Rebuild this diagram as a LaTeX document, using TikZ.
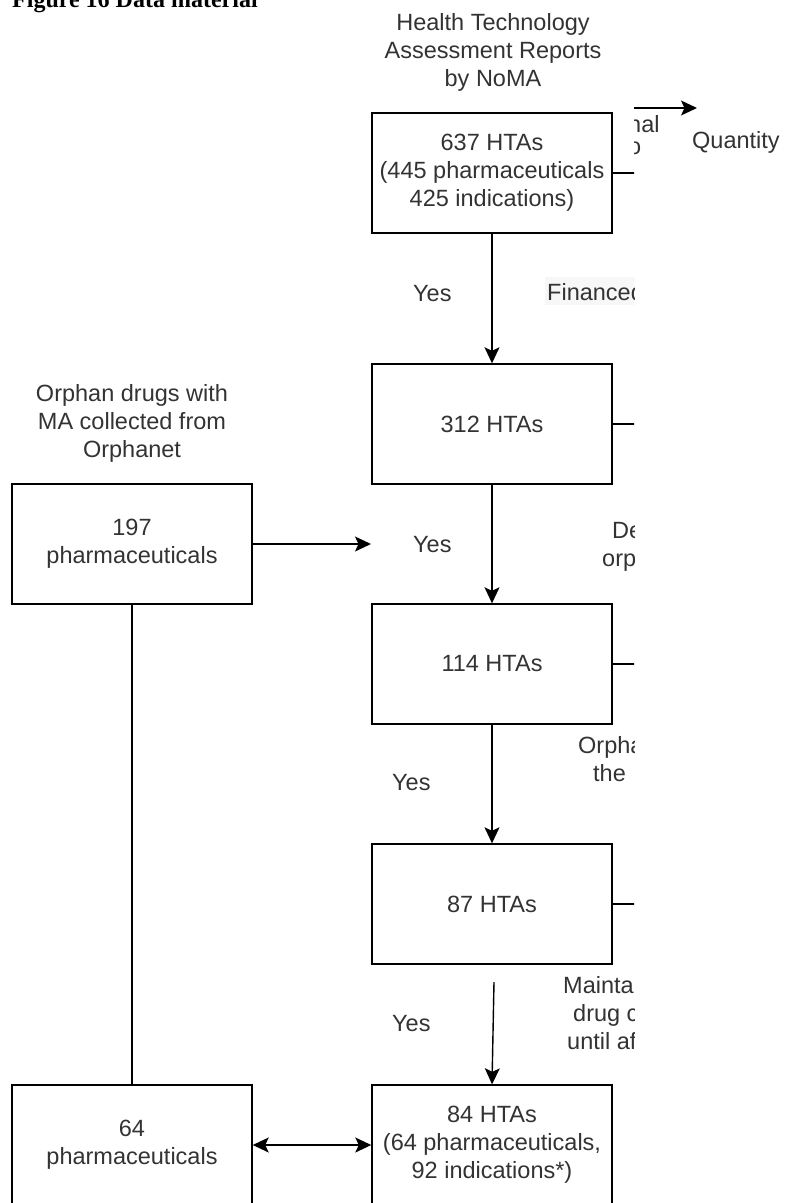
\documentclass[tikz,border=0pt]{standalone}
\usepackage{fontspec}
\setmainfont{Liberation Sans}
\newfontfamily\titlefont{Liberation Serif}
\usetikzlibrary{arrows.meta}
\tikzset{
  box/.style={draw=black, line width=1.4pt, minimum width=240pt, minimum height=120pt, inner sep=0pt, align=center, text=black!80, font=\fontsize{23.5}{28}\selectfont},
  lbl/.style={inner sep=0pt, align=center, text=black!80, font=\fontsize{23.5}{28}\selectfont},
  frag/.style={inner sep=0pt, anchor=base west, text=black!80, font=\fontsize{23.5}{28}\selectfont},
  conn/.style={line width=1.4pt, draw=black},
  tip/.style={},
  arr/.style={conn, -{Stealth[length=16pt, width=15pt, inset=3.5pt]}},
  darr/.style={conn, {Stealth[length=16pt, width=15pt, inset=3.5pt]}-{Stealth[length=16pt, width=15pt, inset=3.5pt]}}
}
\begin{document}
\begin{tikzpicture}[x=1pt, y=-1pt]
\useasboundingbox (0,0) rectangle (790,1203);
\clip (0,0) rectangle (790,1203);
\fill[white] (0,0) rectangle (790,1203);

% title
\node[inner sep=0pt, anchor=base west, font=\titlefont\bfseries\fontsize{24}{28}\selectfont] (title) at (12,7) {Figure 16 Data material};

% main column
\node[box] (b1) at (492,173) {637 HTAs\\(445 pharmaceuticals\\425 indications)};
\node[box] (b2) at (492,424) {312 HTAs};
\node[box] (b3) at (492,664) {114 HTAs};
\node[box] (b4) at (492,904) {87 HTAs};
\node[box] (b5) at (492,1145) {84 HTAs\\(64 pharmaceuticals,\\92 indications*)};

% left column
\node[box] (l1) at (132,544) {197\\pharmaceuticals};
\node[box] (l2) at (132,1145) {64\\pharmaceuticals};

% headings
\node[lbl] (h1) at (493,52) {Health Technology\\Assessment Reports\\by NoMA};
\node[lbl] (h2) at (132,423) {Orphan drugs with\\MA collected from\\Orphanet};

% yes labels
\node[frag] (y1) at (413,301) {Yes};
\node[frag] (y2) at (413,552) {Yes};
\node[frag] (y3) at (392,790) {Yes};
\node[frag] (y4) at (392,1031) {Yes};

% connectors main
\draw[arr] (b1.south) -- (b2.north);
\draw[arr] (b2.south) -- (b3.north);
\draw[arr] (b3.south) -- (b4.north);
\coordinate (m4) at (494,982);
\draw[arr] (m4) -- (b5.north);

% left connectors
\coordinate (a1) at (371,544);
\draw[arr] (l1.east) -- (a1);
\draw[conn] (l1.south) -- (l2.north);
\draw[darr] (l2.east) -- (b5.west);

% side stubs and clipped labels
\begin{scope}
\clip (0,0) rectangle (634,1203);
\coordinate (s1) at (640,173);
\coordinate (s2) at (640,424);
\coordinate (s3) at (640,664);
\coordinate (s4) at (640,904);
\draw[conn] (b1.east) -- (s1);
\draw[conn] (b2.east) -- (s2);
\draw[conn] (b3.east) -- (s3);
\draw[conn] (b4.east) -- (s4);
\fill[black!3] (545,277) rectangle (640,305);
\node[frag] (f1) at (547,300) {Financed};
\node[frag] (f2) at (612,538) {De};
\node[frag] (f3) at (602,566) {orp};
\node[frag] (f4) at (578,753) {Orpha};
\node[frag] (f5) at (593,781) {the};
\node[frag] (f6) at (563,993) {Mainta};
\node[frag] (f7) at (573,1021) {drug c};
\node[frag] (f8) at (567,1049) {until af};
\end{scope}

% right fragment
\begin{scope}
\clip (634,0) rectangle (790,1203);
\coordinate (q0) at (634,108);
\coordinate (q1) at (697,108);
\draw[arr] (q0) -- (q1);
\node[frag] (r1) at (628,132) {nal};
\node[frag] (r2) at (628,154) {o};
\node[frag] (q) at (692,148) {Quantity};
\end{scope}
\end{tikzpicture}
\end{document}
